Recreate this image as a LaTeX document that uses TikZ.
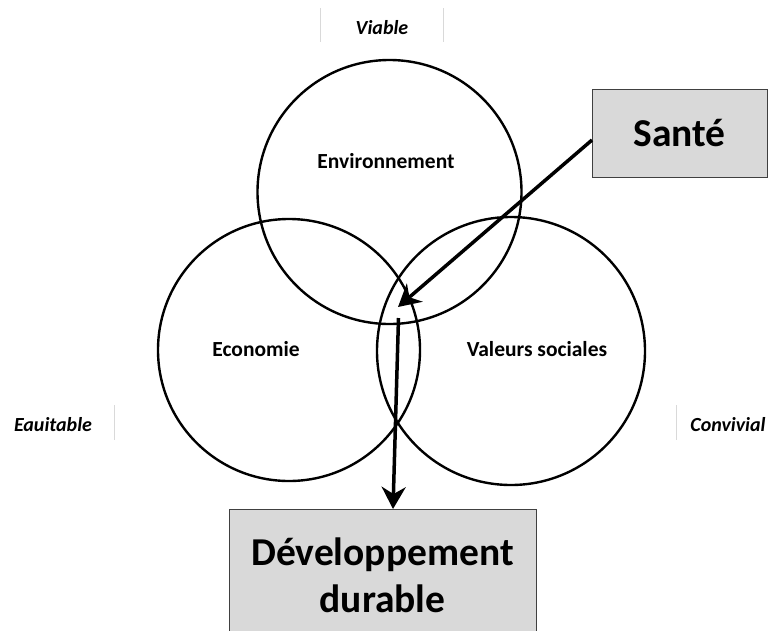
\documentclass[tikz,border=0pt]{standalone}
\usepackage{fontspec}
\setmainfont{Carlito}
\usetikzlibrary{arrows.meta,calc}
\begin{document}
\begin{tikzpicture}[x=1pt,y=-1pt,
 ring/.style={circle,draw=black,line width=2.4pt,minimum size=#1,inner sep=0pt},
 lab/.style={font=\fontsize{21.5}{24}\selectfont\bfseries},
 side/.style={font=\fontsize{20}{23}\selectfont\bfseries\itshape},
 tick/.style={draw=black!15,line width=1pt},
 gbox/.style={draw=black!75,fill=black!15,line width=1pt,inner sep=0pt},
 big/.style={font=\fontsize{39.5}{47}\selectfont\bfseries},
 arr/.style={line width=3.5pt,-{Stealth[length=22pt,width=24pt,inset=7pt]}}]
\useasboundingbox (0,0) rectangle (782,630);
% circles
\node[ring=264pt] (env) at (389.5,192) {};
\node[ring=262pt] (eco) at (289,350) {};
\node[ring=268pt] (soc) at (511,351) {};
% circle labels
\node[lab] (envl) at (386,161) {Environnement};
\node[lab] (ecol) at (256,349) {Economie};
\node[lab] (socl) at (537,349) {Valeurs sociales};
% side labels
\node[side] (viable) at (382,28) {Viable};
\node[side] (equit) at (53,425) {Eauitable};
\node[side] (conv) at (728,425) {Convivial};
\draw[tick] (320,8) -- (320,42);
\draw[tick] (443,8) -- (443,42);
\draw[tick] (114,405) -- (114,440);
\draw[tick] (676,405) -- (676,440);
% boxes
\node[gbox,big,minimum width=175pt,minimum height=88pt] (sante) at (679.5,133) {Santé};
\node[gbox,big,minimum width=307pt,minimum height=132pt,anchor=north,align=center] (dev) at (382.5,509) {Développement\\durable};
% connectors
\coordinate (start) at (592,140);
\coordinate (hit) at (398,307);
\coordinate (mid) at (398.5,318);
\coordinate (devtop) at (393,509);
\draw[arr] (start) -- (hit);
\draw[arr] (mid) -- (devtop);
\end{tikzpicture}
\end{document}
